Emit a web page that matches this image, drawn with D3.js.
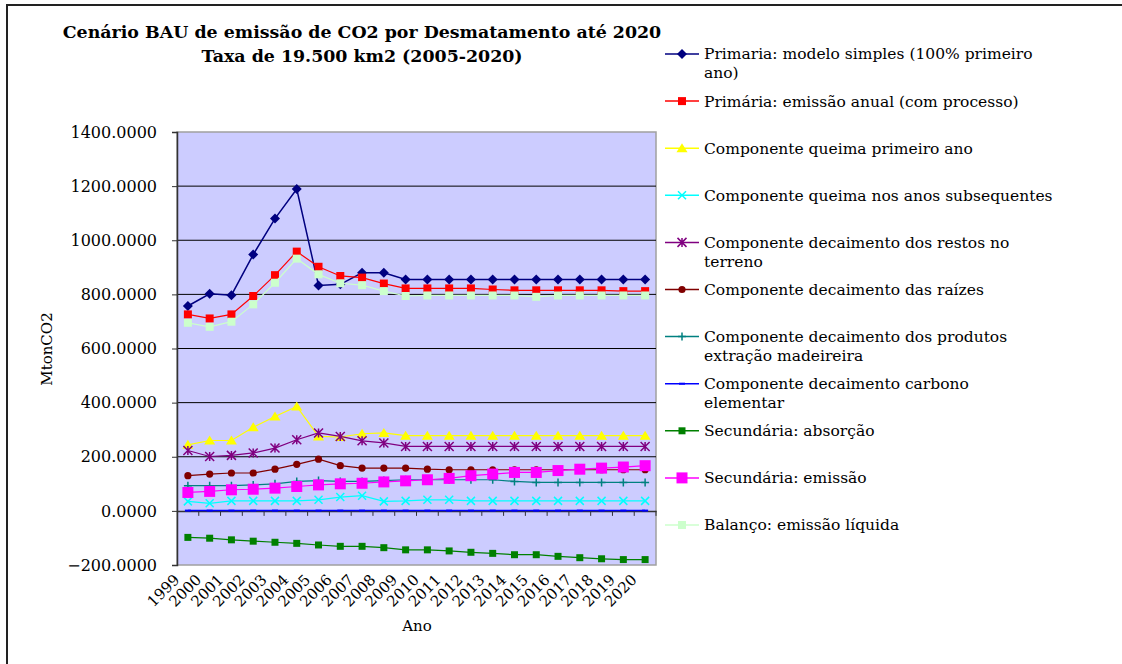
<!DOCTYPE html>
<html>
<head>
<meta charset="utf-8">
<script src="https://cdn.jsdelivr.net/npm/d3@7"></script>
<style>
  body { margin: 0; background: #fff; }
  text { font-family: "DejaVu Serif", Georgia, serif; fill: #000; }
</style>
</head>
<body>
<div id="chart"></div>
<script>
var svgWidth = 1122;
var svgHeight = 664;

var margin = { top: 132, right: 466, bottom: 99, left: 177 };
var width = svgWidth - margin.left - margin.right;
var height = svgHeight - margin.top - margin.bottom;

// Data
var years = ['1999', '2000', '2001', '2002', '2003', '2004', '2005', '2006', '2007', '2008', '2009',
  '2010', '2011', '2012', '2013', '2014', '2015', '2016', '2017', '2018', '2019', '2020'];

var primariaSimples = [757, 802, 797, 947, 1080, 1189, 833, 837, 880, 880, 855,
  855, 855, 855, 855, 855, 855, 855, 855, 855, 855, 855];
var primariaAnual = [726, 711, 726, 794, 871, 958, 902, 868, 862, 840, 822,
  822, 822, 822, 818, 815, 815, 815, 815, 815, 812, 812];
var queimaPrimeiro = [244, 260, 260, 309, 349, 386, 275, 273, 285, 288, 278,
  278, 278, 278, 278, 278, 278, 278, 278, 278, 278, 278];
var queimaSubseq = [35, 28, 37, 37, 37, 37, 41, 51, 56, 35, 37,
  41, 41, 37, 37, 37, 37, 37, 37, 37, 37, 37];
var decRestos = [223, 201, 205, 214, 232, 263, 288, 275, 259, 251, 238,
  238, 238, 238, 238, 238, 238, 238, 238, 238, 238, 238];
var decRaizes = [130, 136, 140, 140, 154, 172, 191, 167, 158, 158, 158,
  154, 152, 152, 152, 152, 152, 152, 152, 152, 152, 152];
var decProdutos = [93, 93, 93, 96, 100, 109, 112, 109, 109, 112, 115,
  115, 115, 115, 115, 109, 105, 105, 105, 105, 105, 105];
var decCarbono = [1, 1, 1, 1, 1, 1, 1, 1, 1, 1, 1,
  1, 1, 1, 1, 1, 1, 1, 1, 1, 1, 1];
var secAbsorcao = [-98, -101, -107, -112, -116, -120, -126, -131, -131, -136, -144,
  -144, -148, -153, -157, -162, -162, -168, -173, -177, -180, -180];
var secEmissao = [68, 72, 78, 80, 84, 90, 96, 100, 102, 107, 111,
  115, 120, 130, 136, 142, 142, 149, 154, 158, 162, 167];
var balanco = [695, 680, 699, 763, 843, 932, 874, 841, 834, 812, 794,
  796, 796, 796, 796, 796, 791, 796, 796, 796, 796, 796];

var yTicks = [-200, 0, 200, 400, 600, 800, 1000, 1200, 1400];

var seriesNames = [
  ['Primaria: modelo simples (100% primeiro', 'ano)'],
  ['Primária: emissão anual (com processo)'],
  ['Componente queima primeiro ano'],
  ['Componente queima nos anos subsequentes'],
  ['Componente decaimento dos restos no', 'terreno'],
  ['Componente decaimento das raízes'],
  ['Componente decaimento dos produtos', 'extração madeireira'],
  ['Componente decaimento carbono', 'elementar'],
  ['Secundária: absorção'],
  ['Secundária: emissão'],
  ['Balanço: emissão líquida']
];
var seriesValues = [primariaSimples, primariaAnual, queimaPrimeiro, queimaSubseq, decRestos,
  decRaizes, decProdutos, decCarbono, secAbsorcao, secEmissao, balanco];

// Styles per series
var styles = [
  { color: '#000080', marker: 'diamond', size: 5, lw: 1.5 },
  { color: '#ff0000', marker: 'square', size: 4, lw: 1.2 },
  { color: '#ffff00', marker: 'triangle', size: 5, lw: 1.2 },
  { color: '#00ffff', marker: 'x', size: 4, lw: 1.2 },
  { color: '#800080', marker: 'asterisk', size: 4.5, lw: 1.2 },
  { color: '#800000', marker: 'circle', size: 3.6, lw: 1.2 },
  { color: '#008080', marker: 'plus', size: 4, lw: 1.2 },
  { color: '#0000ff', marker: 'dash', size: 3, lw: 1.5 },
  { color: '#008000', marker: 'square', size: 3.5, lw: 1.2 },
  { color: '#ff00ff', marker: 'square', size: 5.5, lw: 1.2 },
  { color: '#ccffcc', marker: 'square', size: 4, lw: 1.2 }
];

var svg = d3.select('#chart')
  .append('svg')
  .attr('width', svgWidth)
  .attr('height', svgHeight);

// outer frame (cut off at the right and bottom)
svg.append('rect')
  .attr('x', 7).attr('y', 5)
  .attr('width', svgWidth + 20).attr('height', svgHeight + 20)
  .attr('fill', 'none')
  .attr('stroke', '#222')
  .attr('stroke-width', 2);

// title
var title = svg.append('text')
  .attr('x', 362)
  .attr('text-anchor', 'middle')
  .style('font-weight', 'bold')
  .style('font-size', '17.4px');
title.append('tspan').attr('x', 362).attr('y', 38).text('Cenário BAU de emissão de CO2 por Desmatamento até 2020');
title.append('tspan').attr('x', 362).attr('y', 62).text('Taxa de 19.500 km2 (2005-2020)');

var chartGroup = svg.append('g')
  .attr('transform', `translate(${margin.left}, ${margin.top})`);

var xScale = d3.scaleBand()
  .domain(years)
  .range([0, width]);

var yScale = d3.scaleLinear()
  .domain([-200, 1400])
  .range([height, 0]);

// plot background
chartGroup.append('rect')
  .attr('width', width)
  .attr('height', height)
  .attr('fill', '#ccccff')
  .attr('stroke', '#a0a0a0')
  .attr('stroke-width', 1.5);

// gridlines
chartGroup.selectAll('.grid')
  .data(yTicks.filter(d => d > 0 && d < 1400))
  .enter()
  .append('line')
  .attr('x1', 0).attr('x2', width)
  .attr('y1', d => yScale(d)).attr('y2', d => yScale(d))
  .attr('stroke', '#000')
  .attr('stroke-width', 1);

// y axis
var leftAxis = d3.axisLeft(yScale)
  .tickValues(yTicks)
  .tickSize(5)
  .tickPadding(15)
  .tickFormat(d3.format('.4f'));

var yAxisG = chartGroup.append('g').call(leftAxis);
yAxisG.select('.domain').attr('stroke', '#333').attr('stroke-width', 1.5);
yAxisG.selectAll('.tick line').attr('stroke', '#333');
yAxisG.selectAll('.tick text')
  .style('font-family', '"DejaVu Serif", Georgia, serif')
  .style('font-size', '16px');

// x axis crossing at zero
var bottomAxis = d3.axisBottom(xScale).tickSize(0).tickFormat('');
var xAxisG = chartGroup.append('g')
  .attr('transform', `translate(0, ${yScale(0)})`)
  .call(bottomAxis);
xAxisG.select('.domain').attr('stroke', '#333').attr('stroke-width', 1.5);

var bounds = years.map((d, i) => i + 1);
chartGroup.selectAll('.xtick')
  .data(bounds)
  .enter()
  .append('line')
  .attr('x1', d => d * xScale.step()).attr('x2', d => d * xScale.step())
  .attr('y1', yScale(0)).attr('y2', yScale(0) + 5)
  .attr('stroke', '#333');

// x labels, rotated, under the plot
chartGroup.selectAll('.xlab')
  .data(years)
  .enter()
  .append('text')
  .attr('text-anchor', 'end')
  .attr('dy', '0.35em')
  .attr('transform', d => `translate(${xScale(d) + xScale.bandwidth() / 2 - 11}, ${height + 12}) rotate(-45)`)
  .style('font-size', '15px')
  .text(d => d);

// marker paths
function markerPath(type, s) {
  switch (type) {
    case 'diamond': return `M0,${-s}L${s},0L0,${s}L${-s},0Z`;
    case 'square': return `M${-s},${-s}H${s}V${s}H${-s}Z`;
    case 'triangle': return `M0,${-s}L${s * 1.1},${s * 0.8}L${-s * 1.1},${s * 0.8}Z`;
    case 'x': return `M${-s},${-s}L${s},${s}M${s},${-s}L${-s},${s}`;
    case 'plus': return `M${-s},0H${s}M0,${-s}V${s}`;
    case 'asterisk': return `M${-s},${-s}L${s},${s}M${s},${-s}L${-s},${s}M0,${-s}V${s}`;
    case 'dash': return `M${-s},-1H${s}V1H${-s}Z`;
    case 'circle': return d3.symbol(d3.symbolCircle, Math.PI * s * s)();
  }
}
var strokeMarkers = ['x', 'plus', 'asterisk'];

function drawMarker(sel, st) {
  var stroked = strokeMarkers.indexOf(st.marker) >= 0;
  sel.attr('d', markerPath(st.marker, st.size))
    .attr('fill', stroked ? 'none' : st.color)
    .attr('stroke', stroked ? st.color : 'none')
    .attr('stroke-width', stroked ? 1.5 : 0);
}

var line = d3.line()
  .x((d, i) => xScale(years[i]) + xScale.bandwidth() / 2)
  .y(d => yScale(d));

seriesValues.forEach(function(vals, k) {
  var st = styles[k];
  chartGroup.append('path')
    .datum(vals)
    .attr('d', line)
    .attr('fill', 'none')
    .attr('stroke', st.color)
    .attr('stroke-width', st.lw);

  chartGroup.selectAll('.m' + k)
    .data(vals)
    .enter()
    .append('path')
    .attr('transform', (d, i) => `translate(${xScale(years[i]) + xScale.bandwidth() / 2}, ${yScale(d)})`)
    .call(drawMarker, st);
});

// legend
var legend = svg.append('g').attr('transform', 'translate(665, 54)');
var legendItems = legend.selectAll('.leg')
  .data(seriesNames)
  .enter()
  .append('g')
  .attr('transform', (d, i) => `translate(0, ${i * 47.1})`);

legendItems.append('line')
  .attr('x1', 0).attr('x2', 34)
  .attr('stroke', (d, i) => styles[i].color)
  .attr('stroke-width', 1.5);

legendItems.append('path')
  .attr('transform', 'translate(17, 0)')
  .each(function(d, i) { d3.select(this).call(drawMarker, styles[i]); });

legendItems.append('text')
  .attr('x', 39)
  .style('font-size', '15.5px')
  .selectAll('tspan')
  .data(d => d)
  .enter()
  .append('tspan')
  .attr('x', 39)
  .attr('y', (d, j) => j * 19)
  .attr('dy', '0.35em')
  .text(d => d);

// axis titles
svg.append('text')
  .attr('transform', 'translate(47, 349) rotate(-90)')
  .attr('text-anchor', 'middle')
  .attr('dy', '0.35em')
  .style('font-size', '15px')
  .text('MtonCO2');

svg.append('text')
  .attr('x', 417)
  .attr('y', 626)
  .attr('text-anchor', 'middle')
  .attr('dy', '0.35em')
  .style('font-size', '15px')
  .text('Ano');
</script>
</body>
</html>
